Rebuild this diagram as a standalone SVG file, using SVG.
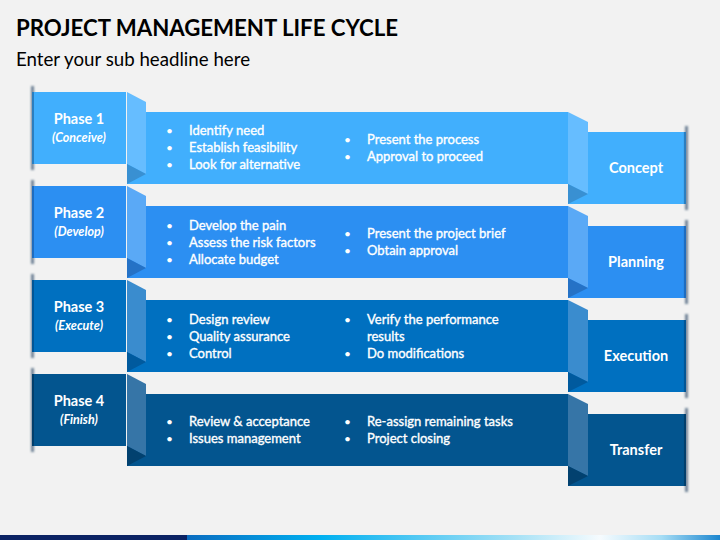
<svg xmlns="http://www.w3.org/2000/svg" width="720" height="540" viewBox="0 0 720 540">
<defs>
<style>
.t{font-family:Lato,"Liberation Sans",sans-serif;fill:#fff}
.ph{font-size:14.5px;font-weight:700;text-anchor:middle}
.pi{font-size:12.5px;font-weight:700;font-style:italic;text-anchor:middle}
.b{font-size:13px;stroke:#fff;stroke-width:0.35px}
.b .d{stroke:none;font-size:12px}
.lab{font-size:14.5px;font-weight:700;text-anchor:middle}
</style>
<filter id="sh" x="-3" y="-0.2" width="7" height="1.4"><feGaussianBlur stdDeviation="1.3"/></filter>
<linearGradient id="bar" x1="0" x2="1" y1="0" y2="0">
<stop offset="0" stop-color="#0A6CC0"/>
<stop offset="0.25" stop-color="#00B0F0"/>
<stop offset="0.62" stop-color="#A8E2F6"/>
<stop offset="0.775" stop-color="#F6FBFE"/>
<stop offset="0.89" stop-color="#A6DDF5"/>
<stop offset="1" stop-color="#1C86CF"/>
</linearGradient>
</defs>
<rect width="720" height="540" fill="#F2F2F2"/>
<text x="16" y="36" font-family="Lato,'Liberation Sans',sans-serif" font-weight="700" font-size="23" fill="#000" textLength="382" lengthAdjust="spacingAndGlyphs">PROJECT MANAGEMENT LIFE CYCLE</text>
<text x="16" y="66" font-family="Lato,'Liberation Sans',sans-serif" font-size="18.5" fill="#000" textLength="234" lengthAdjust="spacingAndGlyphs">Enter your sub headline here</text>

<g id="connectors"></g>

<g id="row1">
<rect x="127" y="112" width="441" height="72" fill="#41AFFD"/>
<rect x="568" y="132" width="118" height="72" fill="#41AFFD"/>
<polygon points="127,92 146,102 146,174 127,164" fill="#66BDFF"/>
<polygon points="127,164 146,174 127,184" fill="#3990D2"/>
<polygon points="568,112 588,122 588,194 568,184" fill="#66BDFF"/>
<polygon points="568,184 588,194 568,204" fill="#3990D2"/>
<rect x="31" y="86" width="3" height="84" fill="#1a3a5a" opacity="0.6" filter="url(#sh)"/>
<rect x="32" y="92" width="94" height="72" fill="#41AFFD"/>
<rect x="32" y="92" width="2" height="72" fill="#2A7EC0"/>
<rect x="685" y="126" width="3" height="84" fill="#1a3a5a" opacity="0.6" filter="url(#sh)"/>
<rect x="684" y="132" width="2" height="72" fill="#2A7EC0"/>
</g>
<g id="row2">
<rect x="127" y="206" width="441" height="72" fill="#2C8FF2"/>
<rect x="568" y="226" width="118" height="72" fill="#2C8FF2"/>
<polygon points="127,186 146,196 146,268 127,258" fill="#5AA9F6"/>
<polygon points="127,258 146,268 127,278" fill="#2572C6"/>
<polygon points="568,206 588,216 588,288 568,278" fill="#5AA9F6"/>
<polygon points="568,278 588,288 568,298" fill="#2572C6"/>
<rect x="31" y="180" width="3" height="84" fill="#1a3a5a" opacity="0.6" filter="url(#sh)"/>
<rect x="32" y="186" width="94" height="72" fill="#2C8FF2"/>
<rect x="32" y="186" width="2" height="72" fill="#1E6CC0"/>
<rect x="685" y="220" width="3" height="84" fill="#1a3a5a" opacity="0.6" filter="url(#sh)"/>
<rect x="684" y="226" width="2" height="72" fill="#1E6CC0"/>
</g>
<g id="row3">
<rect x="127" y="300" width="441" height="72" fill="#0070C0"/>
<rect x="568" y="320" width="118" height="72" fill="#0070C0"/>
<polygon points="127,280 146,290 146,362 127,352" fill="#3A8CCE"/>
<polygon points="127,352 146,362 127,372" fill="#005A9E"/>
<polygon points="568,300 588,310 588,382 568,372" fill="#3A8CCE"/>
<polygon points="568,372 588,382 568,392" fill="#005A9E"/>
<rect x="31" y="274" width="3" height="84" fill="#1a3a5a" opacity="0.6" filter="url(#sh)"/>
<rect x="32" y="280" width="94" height="72" fill="#0070C0"/>
<rect x="32" y="280" width="2" height="72" fill="#005596"/>
<rect x="685" y="314" width="3" height="84" fill="#1a3a5a" opacity="0.6" filter="url(#sh)"/>
<rect x="684" y="320" width="2" height="72" fill="#005596"/>
</g>
<g id="row4">
<rect x="127" y="394" width="441" height="72" fill="#03558F"/>
<rect x="568" y="414" width="118" height="72" fill="#03558F"/>
<polygon points="127,374 146,384 146,456 127,446" fill="#3675A7"/>
<polygon points="127,446 146,456 127,466" fill="#02416F"/>
<polygon points="568,394 588,404 588,476 568,466" fill="#3675A7"/>
<polygon points="568,466 588,476 568,486" fill="#02416F"/>
<rect x="31" y="368" width="3" height="84" fill="#1a3a5a" opacity="0.6" filter="url(#sh)"/>
<rect x="32" y="374" width="94" height="72" fill="#03558F"/>
<rect x="32" y="374" width="2" height="72" fill="#023F6C"/>
<rect x="685" y="408" width="3" height="84" fill="#1a3a5a" opacity="0.6" filter="url(#sh)"/>
<rect x="684" y="414" width="2" height="72" fill="#023F6C"/>
</g>

<g id="phase1" class="t"><text class="ph" x="79" y="124">Phase 1</text><text class="pi" x="79" y="142">(Conceive)</text></g>
<g id="phase2" class="t"><text class="ph" x="79" y="218">Phase 2</text><text class="pi" x="79" y="236">(Develop)</text></g>
<g id="phase3" class="t"><text class="ph" x="79" y="312">Phase 3</text><text class="pi" x="79" y="330">(Execute)</text></g>
<g id="phase4" class="t"><text class="ph" x="79" y="406">Phase 4</text><text class="pi" x="79" y="424">(Finish)</text></g>

<g id="tasks1" class="t b">
<text class="d" x="166" y="135">•</text><text x="189" y="135">Identify need</text>
<text class="d" x="166" y="152">•</text><text x="189" y="152">Establish feasibility</text>
<text class="d" x="166" y="169">•</text><text x="189" y="169">Look for alternative</text>
<text class="d" x="344" y="144">•</text><text x="367" y="144">Present the process</text>
<text class="d" x="344" y="161">•</text><text x="367" y="161">Approval to proceed</text>
</g>
<g id="tasks2" class="t b">
<text class="d" x="166" y="230">•</text><text x="189" y="230">Develop the pain</text>
<text class="d" x="166" y="247">•</text><text x="189" y="247">Assess the risk factors</text>
<text class="d" x="166" y="264">•</text><text x="189" y="264">Allocate budget</text>
<text class="d" x="344" y="238">•</text><text x="367" y="238">Present the project brief</text>
<text class="d" x="344" y="255">•</text><text x="367" y="255">Obtain approval</text>
</g>
<g id="tasks3" class="t b">
<text class="d" x="166" y="324">•</text><text x="189" y="324">Design review</text>
<text class="d" x="166" y="341">•</text><text x="189" y="341">Quality assurance</text>
<text class="d" x="166" y="358">•</text><text x="189" y="358">Control</text>
<text class="d" x="344" y="324">•</text><text x="367" y="324">Verify the performance</text>
<text x="367" y="341">results</text>
<text class="d" x="344" y="358">•</text><text x="367" y="358">Do modifications</text>
</g>
<g id="tasks4" class="t b">
<text class="d" x="166" y="426">•</text><text x="189" y="426">Review &amp; acceptance</text>
<text class="d" x="166" y="443">•</text><text x="189" y="443">Issues management</text>
<text class="d" x="344" y="426">•</text><text x="367" y="426">Re-assign remaining tasks</text>
<text class="d" x="344" y="443">•</text><text x="367" y="443">Project closing</text>
</g>

<g id="concept" class="t"><text class="lab" x="636" y="173">Concept</text></g>
<g id="planning" class="t"><text class="lab" x="636" y="267">Planning</text></g>
<g id="execution" class="t"><text class="lab" x="636" y="361">Execution</text></g>
<g id="transfer" class="t"><text class="lab" x="636" y="455">Transfer</text></g>

<rect x="0" y="535" width="187" height="5" fill="#0B2263"/>
<rect x="187" y="535" width="533" height="5" fill="url(#bar)"/>
</svg>
